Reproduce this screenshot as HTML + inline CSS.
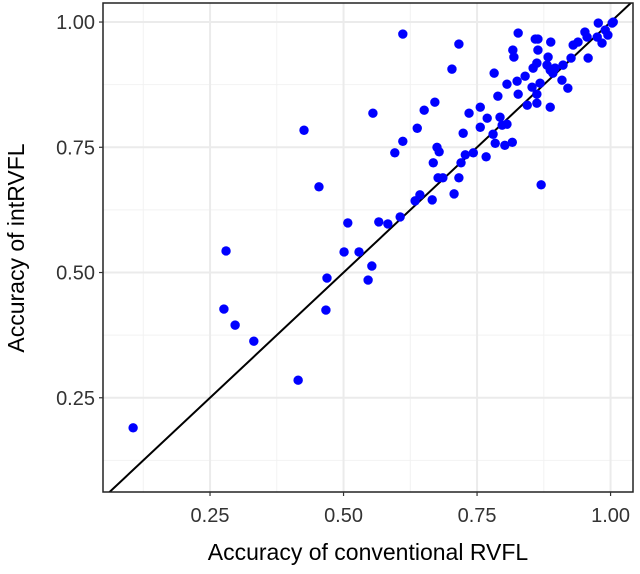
<!DOCTYPE html>
<html><head><meta charset="utf-8"><style>
body{margin:0;background:#fff;}
svg text{font-family:"Liberation Sans",Arial,sans-serif;}
</style></head><body>
<svg id="chart" width="640" height="569" xmlns="http://www.w3.org/2000/svg">
<defs><clipPath id="clip"><rect x="103" y="3" width="530" height="489"/></clipPath></defs>
<g id="grid"></g>
<g id="line" clip-path="url(#clip)"></g>
<g id="pts"></g>
<rect x="103" y="3" width="530" height="489" fill="none" stroke="#222" stroke-width="1.5"/>
<g id="ticks"></g>
<text x="368" y="560" font-size="23" text-anchor="middle" fill="#000">Accuracy of conventional RVFL</text>
<text transform="translate(24,248) rotate(-90)" font-size="23" text-anchor="middle" fill="#000">Accuracy of intRVFL</text>
</svg>
<script>
const xVals=[0.106,0.276,0.280,0.297,0.332,0.415,0.426,0.454,0.467,0.469,0.501,0.508,0.529,0.546,0.553,0.555,0.566,0.583,0.596,0.606,0.611,0.611,0.634,0.638,0.643,0.651,0.666,0.668,0.671,0.675,0.679,0.677,0.686,0.707,0.716,0.716,0.703,0.720,0.724,0.728,0.735,0.743,0.756,0.756,0.769,0.767,0.780,0.784,0.789,0.782,0.793,0.797,0.802,0.806,0.806,0.816,0.825,0.827,0.840,0.844,0.853,0.862,0.862,0.868,0.870,0.887,0.819,0.817,0.827,0.855,0.862,0.881,0.887,0.896,0.892,0.883,0.864,0.859,0.864,0.888,0.909,0.920,0.911,0.926,0.958,0.930,0.939,0.952,0.956,0.975,0.984,0.995,0.977,1.003,1.005,0.990];
const yVals=[0.190,0.427,0.543,0.395,0.363,0.285,0.784,0.671,0.425,0.489,0.541,0.599,0.541,0.485,0.513,0.818,0.601,0.597,0.739,0.611,0.976,0.762,0.643,0.788,0.655,0.824,0.645,0.719,0.840,0.750,0.741,0.689,0.689,0.657,0.689,0.956,0.906,0.719,0.778,0.735,0.818,0.739,0.830,0.790,0.808,0.731,0.776,0.758,0.852,0.898,0.810,0.794,0.754,0.796,0.876,0.760,0.882,0.856,0.892,0.834,0.870,0.856,0.838,0.878,0.675,0.830,0.930,0.944,0.978,0.908,0.918,0.914,0.904,0.908,0.898,0.930,0.944,0.966,0.966,0.960,0.884,0.868,0.914,0.928,0.928,0.954,0.960,0.980,0.970,0.970,0.958,0.974,0.998,0.998,1.000,0.984];
const xTicks=[0.25,0.50,0.75,1.00];
const yTicks=[0.25,0.50,0.75,1.00];
const xTickLabels=["0.25","0.50","0.75","1.00"];
const yTickLabels=["0.25","0.50","0.75","1.00"];
const xMin=0.0496,xMax=1.042,yMin=0.0619,yMax=1.038;
const L=103,R=633,T=3,B=492;
const sx=v=>L+(v-xMin)/(xMax-xMin)*(R-L);
const sy=v=>B-(v-yMin)/(yMax-yMin)*(B-T);
const NS="http://www.w3.org/2000/svg";
function mk(tag,attrs,parent){const e=document.createElementNS(NS,tag);for(const k in attrs)e.setAttribute(k,attrs[k]);parent.appendChild(e);return e;}
const grid=document.getElementById('grid');
[0.125,0.375,0.625,0.875].forEach(v=>{
 const a=mk('line',{x1:sx(v),x2:sx(v),y1:T,y2:B,stroke:'#f2f2f2','stroke-width':1},grid);
 
 
 const b=mk('line',{x1:L,x2:R,y1:sy(v),y2:sy(v),stroke:'#f2f2f2','stroke-width':1},grid);
 
 
});
const ticks=document.getElementById('ticks');
xTicks.forEach((v,i)=>{
 const g=mk('line',{x1:sx(v),x2:sx(v),y1:T,y2:B,stroke:'#ebebeb','stroke-width':2},grid);
 
 
 const t=mk('line',{x1:sx(v),x2:sx(v),y1:B,y2:B+4,stroke:'#333','stroke-width':1.2},ticks);
 
 
 const tx=mk('text',{x:sx(v),y:B+30,'font-size':20,'text-anchor':'middle',fill:'#333'},ticks);
 tx.textContent=xTickLabels[i];
 
 
});
yTicks.forEach((v,i)=>{
 const g=mk('line',{x1:L,x2:R,y1:sy(v),y2:sy(v),stroke:'#ebebeb','stroke-width':2},grid);
 
 
 const t=mk('line',{x1:L-4,x2:L,y1:sy(v),y2:sy(v),stroke:'#333','stroke-width':1.2},ticks);
 
 
 const tx=mk('text',{x:L-8,y:sy(v)+7,'font-size':20,'text-anchor':'end',fill:'#333'},ticks);
 tx.textContent=yTickLabels[i];
 
 
});
const lo=0,hi=1.1;
const ln=mk('line',{x1:sx(lo),y1:sy(lo),x2:sx(hi),y2:sy(hi),stroke:'#000','stroke-width':2},document.getElementById('line'));


const pts=document.getElementById('pts');
xVals.forEach((x,i)=>{
 const c=mk('circle',{cx:sx(x),cy:sy(yVals[i]),r:4.7,fill:'#0000ff'},pts);
 
 
});
</script>
</body></html>
